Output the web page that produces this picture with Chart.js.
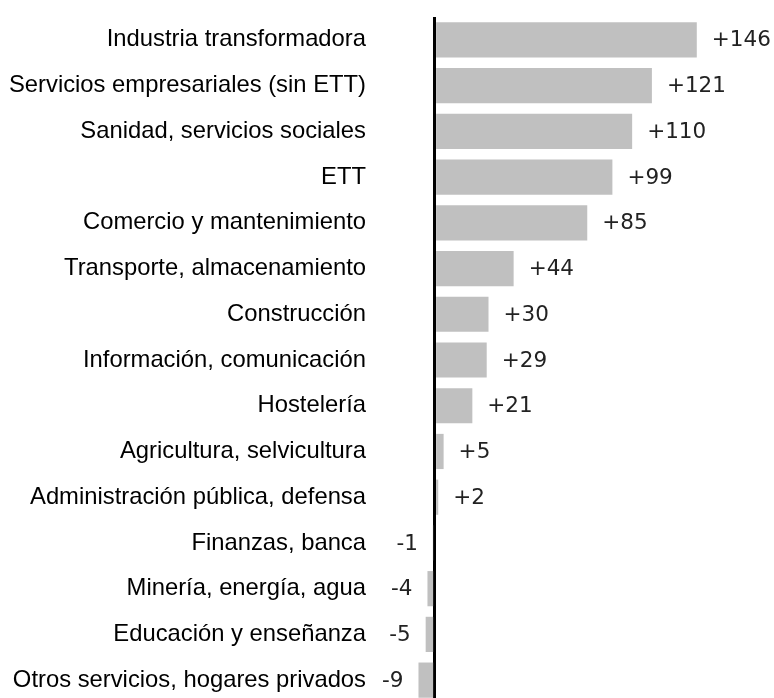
<!DOCTYPE html>
<html>
<head>
<meta charset="utf-8">
<script src="https://cdn.jsdelivr.net/npm/chart.js@4"></script>
<style>
  html, body { margin: 0; padding: 0; background: #fff; overflow: hidden; }
  #wrap { width: 774px; height: 703px; }
</style>
</head>
<body>
<div id="wrap"><canvas id="sectorChart"></canvas></div>
<script>
// Sectores y variación
const sectores = [
    'Industria transformadora',
    'Servicios empresariales (sin ETT)',
    'Sanidad, servicios sociales',
    'ETT',
    'Comercio y mantenimiento',
    'Transporte, almacenamiento',
    'Construcción',
    'Información, comunicación',
    'Hostelería',
    'Agricultura, selvicultura',
    'Administración pública, defensa',
    'Finanzas, banca',
    'Minería, energía, agua',
    'Educación y enseñanza',
    'Otros servicios, hogares privados'
];
const variacion = [146, 121, 110, 99, 85, 44, 30, 29, 21, 5, 2, -1, -4, -5, -9];
const etiquetas = ['+146', '+121', '+110', '+99', '+85', '+44', '+30', '+29', '+21', '+5', '+2', '-1', '-4', '-5', '-9'];

// Etiquetas de valor al final de cada barra
const valueLabels = {
    id: 'valueLabels',
    afterDatasetsDraw(chart) {
        const ctx = chart.ctx;
        const meta = chart.getDatasetMeta(0);
        ctx.save();
        ctx.font = '21.5px "DejaVu Sans"';
        ctx.fillStyle = '#222';
        ctx.textBaseline = 'middle';
        meta.data.forEach((bar, i) => {
            const v = variacion[i];
            if (v >= 0) {
                ctx.textAlign = 'left';
                ctx.fillText(etiquetas[i], bar.x + 15, bar.y + 1);
            } else {
                ctx.textAlign = 'right';
                ctx.fillText(etiquetas[i], bar.x - 15, bar.y + 1);
            }
        });
        ctx.restore();
    }
};

function renderSectorChart() {
    const ctx = document.getElementById('sectorChart').getContext('2d');
    new Chart(ctx, {
        type: 'bar',
        data: {
            labels: sectores,
            datasets: [{
                data: variacion,
                backgroundColor: '#c0c0c0',
                borderWidth: 0,
                categoryPercentage: 1,
                barPercentage: 0.77
            }]
        },
        options: {
            indexAxis: 'y',
            responsive: true,
            maintainAspectRatio: false,
            animation: false,
            layout: { padding: { top: 17, right: 0, bottom: 0, left: 0 } },
            scales: {
                x: {
                    min: -36,
                    max: 189,
                    afterFit: scale => { scale.height = 0; },
                    ticks: { display: false },
                    border: { display: false },
                    grid: {
                        drawTicks: false,
                        color: c => c.tick && c.tick.value === 0 ? '#000' : 'rgba(0,0,0,0)',
                        lineWidth: c => c.tick && c.tick.value === 0 ? 3 : 0
                    }
                },
                y: {
                    afterFit: scale => {
                        scale.width = 370;
                        scale.paddingTop = 0;
                        scale.paddingBottom = 0;
                    },
                    border: { display: false },
                    grid: { display: false, drawTicks: false },
                    ticks: {
                        padding: 4,
                        color: '#000',
                        font: { family: '"Liberation Sans", Arial', size: 23.8 }
                    }
                }
            },
            plugins: {
                legend: { display: false },
                tooltip: { enabled: false }
            }
        },
        plugins: [valueLabels]
    });
}

document.addEventListener('DOMContentLoaded', renderSectorChart);
</script>
</body>
</html>
